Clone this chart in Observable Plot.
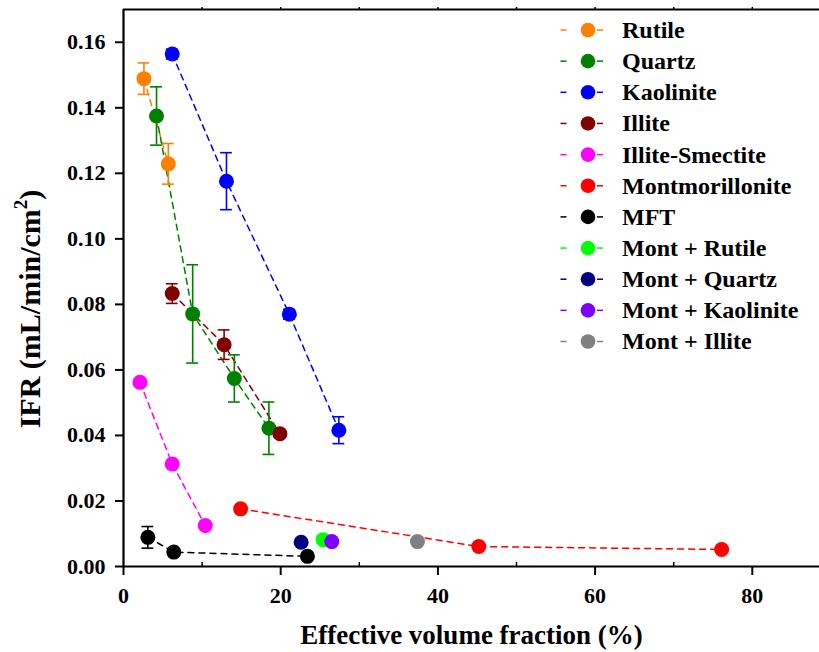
<!DOCTYPE html>
<html>
<head>
<meta charset="utf-8">
<script src="https://cdn.jsdelivr.net/npm/d3@7"></script>
<script src="https://cdn.jsdelivr.net/npm/@observablehq/plot@0.6"></script>
<style>
  html, body { margin: 0; padding: 0; background: #fff; }
  #chart svg { display: block; }
</style>
</head>
<body>
<div id="chart"></div>
<script>
// ---- data ----
const seriesNames = ["Rutile", "Quartz", "Kaolinite", "Illite", "Illite-Smectite", "Montmorillonite", "MFT", "Mont + Rutile", "Mont + Quartz", "Mont + Kaolinite", "Mont + Illite"];
const seriesColors = ["#ff8000", "#008000", "#0000ff", "#800000", "#ff00ff", "#ff0000", "#000000", "#00ff00", "#000080", "#8000ff", "#808080"];

const rutileX = [2.6, 5.7];
const rutileY = [0.1489, 0.1229];
const rutileErr = [0.0048, 0.0062];

const quartzX = [4.2, 8.8, 14.1, 18.5];
const quartzY = [0.1375, 0.0771, 0.0574, 0.0422];
const quartzErr = [0.0089, 0.015, 0.0072, 0.008];

const kaoliniteX = [6.2, 13.1, 21.1, 27.4];
const kaoliniteY = [0.1564, 0.1176, 0.0770, 0.0416];
const kaoliniteErr = [0.0015, 0.0087, 0.0015, 0.0041];

const illiteX = [6.2, 12.8, 19.9];
const illiteY = [0.0833, 0.0677, 0.0405];
const illiteErr = [0.003, 0.0045, 0.001];

const illiteSmectiteX = [2.1, 6.2, 10.4];
const illiteSmectiteY = [0.0562, 0.0313, 0.0125];
const illiteSmectiteErr = [0.001, 0, 0];

const montX = [14.9, 45.2, 76.1];
const montY = [0.0176, 0.0061, 0.0052];
const montErr = [0, 0, 0];

const mftX = [3.1, 6.4, 23.4];
const mftY = [0.0089, 0.0044, 0.0031];
const mftErr = [0.0033, 0, 0];

const montRutileX = [25.4];   const montRutileY = [0.0082];
const montQuartzX = [22.6];   const montQuartzY = [0.0074];
const montKaoliniteX = [26.5]; const montKaoliniteY = [0.0076];
const montIlliteX = [37.4];   const montIlliteY = [0.0076];

const xTicks = [0, 20, 40, 60, 80];
const yTicks = [0, 0.02, 0.04, 0.06, 0.08, 0.10, 0.12, 0.14, 0.16];
const xLabel = "Effective volume fraction (%)";

// ---- table ----
const allX = [rutileX, quartzX, kaoliniteX, illiteX, illiteSmectiteX, montX, mftX, montRutileX, montQuartzX, montKaoliniteX, montIlliteX];
const allY = [rutileY, quartzY, kaoliniteY, illiteY, illiteSmectiteY, montY, mftY, montRutileY, montQuartzY, montKaoliniteY, montIlliteY];
const allErr = [rutileErr, quartzErr, kaoliniteErr, illiteErr, illiteSmectiteErr, montErr, mftErr, [0], [0], [0], [0]];

const rows = seriesNames.flatMap((s, i) => allX[i].map((x, j) => ({series: s, x, y: allY[i][j], err: allErr[i][j]})));
const errRows = rows.filter(d => d.err > 0);
const capHalf = 0.75;

const font = "'Liberation Serif', 'Times New Roman', serif";

const svg = Plot.plot({
  width: 819,
  height: 652,
  marginLeft: 123,
  marginRight: 0,
  marginTop: 9,
  marginBottom: 86,
  style: {fontFamily: font, fontWeight: "bold", background: "#fff", color: "#000"},
  x: {domain: [0, 88.55]},
  y: {domain: [0, 0.170]},
  color: {domain: seriesNames, range: seriesColors},
  marks: [
    Plot.axisY({ticks: yTicks, tickFormat: d3.format(".2f"), tickSize: 8, tickPadding: 10, fontSize: 22, strokeWidth: 2, label: null}),
    Plot.axisX({ticks: xTicks, tickFormat: d3.format("d"), tickSize: 9, tickPadding: 12, fontSize: 22, strokeWidth: 2, label: null}),
    Plot.axisX({anchor: "top", ticks: d3.range(10, 90, 10), tickSize: 3, strokeWidth: 1.5, tickFormat: () => "", label: null}),
    Plot.axisX({anchor: "bottom", ticks: [10, 30, 50, 70], tickSize: -4, strokeWidth: 1.5, tickFormat: () => "", label: null}),
    Plot.ruleX([0], {strokeWidth: 2.2}),
    Plot.ruleY([0], {strokeWidth: 2.2}),
    Plot.ruleY([0.170], {strokeWidth: 2.2}),
    Plot.line(rows, {x: "x", y: "y", z: "series", stroke: "series", strokeDasharray: "6,5", strokeWidth: 1.5}),
    Plot.ruleX(errRows, {x: "x", y1: d => d.y - d.err, y2: d => d.y + d.err, stroke: "series", strokeWidth: 1.6}),
    Plot.ruleY(errRows, {y: d => d.y + d.err, x1: d => d.x - capHalf, x2: d => d.x + capHalf, stroke: "series", strokeWidth: 1.6}),
    Plot.ruleY(errRows, {y: d => d.y - d.err, x1: d => d.x - capHalf, x2: d => d.x + capHalf, stroke: "series", strokeWidth: 1.6}),
    Plot.dot(rows, {x: "x", y: "y", r: 7.5, fill: "series"}),
    Plot.text([xLabel], {frameAnchor: "bottom", dy: 77, fontSize: 27, fontWeight: "bold"})
  ]
});

// y-axis title with superscript
const s = d3.select(svg);
const yt = s.append("text")
  .attr("transform", "translate(40,309) rotate(-90)")
  .attr("text-anchor", "middle")
  .attr("font-family", font)
  .attr("font-weight", "bold")
  .attr("font-size", 30)
  .attr("fill", "#000");
yt.append("tspan").text("IFR (mL/min/cm");
yt.append("tspan").attr("font-size", 19).attr("dy", -13).text("2");
yt.append("tspan").attr("dy", 13).text(")");

// legend
const lg = s.append("g").attr("font-family", font).attr("font-weight", "bold").attr("font-size", 24).attr("text-anchor", "start");
seriesNames.forEach((name, i) => {
  const g = lg.append("g").attr("transform", `translate(0,${30 + i * 31.15})`);
  const c = seriesColors[i];
  g.append("line").attr("x1", 560.5).attr("x2", 566.5).attr("y1", 0).attr("y2", 0).attr("stroke", c).attr("stroke-width", 1.5);
  g.append("line").attr("x1", 597).attr("x2", 603).attr("y1", 0).attr("y2", 0).attr("stroke", c).attr("stroke-width", 1.5);
  g.append("circle").attr("cx", 588).attr("cy", 0).attr("r", 7.3).attr("fill", c);
  g.append("text").attr("x", 622).attr("y", 0).attr("dy", "0.33em").attr("fill", "#000").text(name);
});

document.getElementById("chart").appendChild(svg);
</script>
</body>
</html>
